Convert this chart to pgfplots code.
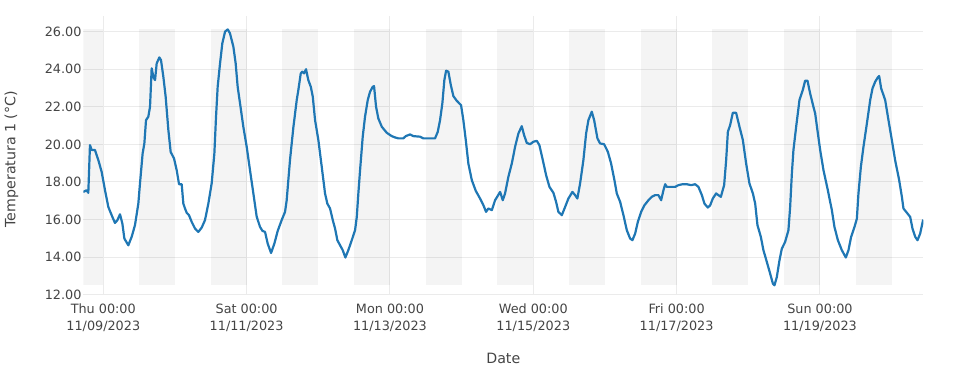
\documentclass[border=0pt]{standalone}
\usepackage{pgfplots}
\pgfplotsset{compat=1.18}
\usepackage{fontspec}
\setmainfont{DejaVu Sans}
\definecolor{txt}{RGB}{68,68,68}
\definecolor{gridc}{RGB}{235,235,235}
\definecolor{linec}{RGB}{31,119,180}

\pgfplotstableread{
day temp
-0.279 17.47
-0.232 17.56
-0.209 17.42
-0.186 19.96
-0.162 19.70
-0.116 19.70
-0.069 19.16
-0.023 18.54
0.024 17.56
0.070 16.67
0.117 16.23
0.163 15.82
0.196 15.96
0.233 16.28
0.266 15.79
0.294 14.99
0.349 14.63
0.396 15.08
0.442 15.70
0.489 16.85
0.512 17.92
0.549 19.52
0.573 20.05
0.596 21.29
0.628 21.47
0.652 22.00
0.675 24.05
0.698 23.60
0.722 23.42
0.745 24.31
0.782 24.63
0.805 24.49
0.838 23.60
0.870 22.54
0.908 20.76
0.940 19.60
0.987 19.25
1.024 18.63
1.057 17.88
1.094 17.88
1.117 16.85
1.140 16.59
1.164 16.36
1.196 16.23
1.233 15.88
1.280 15.52
1.326 15.34
1.373 15.57
1.419 15.97
1.466 16.85
1.512 17.92
1.550 19.52
1.573 21.47
1.596 23.07
1.629 24.31
1.661 25.38
1.699 26.00
1.736 26.12
1.768 25.91
1.815 25.20
1.847 24.31
1.875 23.07
1.908 22.18
1.954 20.94
2.001 19.87
2.047 18.63
2.094 17.39
2.141 16.14
2.187 15.61
2.220 15.40
2.257 15.34
2.294 14.72
2.341 14.22
2.387 14.72
2.434 15.40
2.489 15.97
2.536 16.41
2.559 17.03
2.582 18.10
2.606 19.20
2.652 20.90
2.699 22.36
2.722 22.90
2.755 23.78
2.777 23.87
2.801 23.78
2.829 24.00
2.861 23.42
2.895 23.07
2.923 22.54
2.955 21.29
3.001 20.23
3.048 18.81
3.094 17.39
3.126 16.85
3.164 16.59
3.202 15.97
3.234 15.52
3.266 14.90
3.304 14.63
3.341 14.37
3.378 13.98
3.419 14.37
3.467 14.90
3.513 15.43
3.537 16.14
3.559 17.39
3.583 18.63
3.620 20.41
3.652 21.47
3.690 22.36
3.722 22.80
3.760 23.07
3.778 23.10
3.806 22.00
3.838 21.38
3.886 20.94
3.955 20.62
4.025 20.44
4.071 20.37
4.117 20.32
4.187 20.32
4.220 20.44
4.281 20.53
4.327 20.44
4.420 20.41
4.466 20.32
4.536 20.32
4.629 20.32
4.667 20.67
4.699 21.29
4.731 22.18
4.759 23.42
4.783 23.92
4.815 23.87
4.849 23.16
4.885 22.57
4.932 22.32
4.992 22.09
5.024 21.29
5.058 20.23
5.094 18.98
5.142 18.10
5.197 17.53
5.257 17.12
5.304 16.76
5.341 16.41
5.373 16.59
5.421 16.50
5.467 17.03
5.537 17.47
5.574 17.03
5.606 17.39
5.652 18.27
5.700 18.98
5.746 19.87
5.792 20.58
5.839 20.97
5.872 20.49
5.909 20.08
5.955 20.01
6.001 20.14
6.049 20.19
6.085 19.96
6.133 19.16
6.179 18.36
6.225 17.74
6.281 17.42
6.318 16.94
6.350 16.41
6.398 16.23
6.444 16.67
6.490 17.12
6.546 17.47
6.583 17.30
6.615 17.12
6.653 17.92
6.699 19.16
6.737 20.58
6.769 21.29
6.816 21.74
6.849 21.29
6.895 20.32
6.932 20.05
6.988 20.01
7.040 19.61
7.086 18.98
7.132 18.10
7.165 17.39
7.212 16.94
7.258 16.23
7.305 15.43
7.351 14.99
7.383 14.90
7.421 15.25
7.459 15.88
7.505 16.41
7.551 16.76
7.607 17.03
7.654 17.21
7.700 17.30
7.746 17.30
7.784 17.03
7.816 17.56
7.840 17.88
7.863 17.74
7.909 17.74
7.979 17.74
8.025 17.83
8.081 17.88
8.142 17.88
8.202 17.83
8.258 17.88
8.304 17.74
8.352 17.30
8.388 16.85
8.435 16.64
8.467 16.75
8.505 17.12
8.551 17.39
8.583 17.30
8.617 17.21
8.663 17.83
8.691 19.16
8.715 20.67
8.747 21.03
8.784 21.68
8.830 21.68
8.877 20.94
8.924 20.23
8.970 18.98
9.016 17.92
9.064 17.39
9.096 16.85
9.128 15.70
9.175 15.08
9.211 14.37
9.259 13.74
9.305 13.12
9.343 12.59
9.365 12.50
9.398 12.94
9.435 13.83
9.468 14.45
9.514 14.81
9.560 15.43
9.584 16.67
9.608 18.45
9.630 19.70
9.668 20.94
9.714 22.36
9.761 22.90
9.793 23.39
9.826 23.39
9.863 22.71
9.909 22.00
9.933 21.65
9.971 20.58
10.003 19.70
10.049 18.63
10.110 17.56
10.166 16.50
10.202 15.61
10.250 14.90
10.305 14.37
10.361 13.98
10.398 14.37
10.435 15.08
10.482 15.61
10.515 16.05
10.537 17.39
10.571 18.81
10.607 19.87
10.655 21.12
10.701 22.36
10.733 22.98
10.771 23.34
10.808 23.57
10.826 23.64
10.854 22.98
10.910 22.36
10.956 21.29
11.003 20.23
11.049 19.16
11.105 18.10
11.143 17.21
11.165 16.59
11.213 16.36
11.259 16.14
11.291 15.52
11.329 15.08
11.361 14.90
11.398 15.25
11.440 16.00
}\tempdata

\begin{document}
\begin{tikzpicture}
\useasboundingbox (0pt,0pt) rectangle (953pt,380pt);
\begin{axis}[
  at={(83.3pt,85.3pt)}, anchor=south west,
  scale only axis, width=840pt, height=279pt,
  xmin=-0.279, xmax=11.442, ymin=12, ymax=26.85,
  axis line style={draw=none},
  major tick length=0pt,
  grid=major,
  major grid style={draw=gridc, line width=1pt},
  xtick={0,2,4,6,8,10},
  xticklabels={{Thu 00:00\\11/09/2023},{Sat 00:00\\11/11/2023},{Mon 00:00\\11/13/2023},{Wed 00:00\\11/15/2023},{Fri 00:00\\11/17/2023},{Sun 00:00\\11/19/2023}},
  ytick={12,14,16,18,20,22,24,26},
  /pgf/number format/assume math mode=true,
  yticklabel={\pgfmathprintnumber[fixed,fixed zerofill,precision=2]{\tick}},
  tick label style={font=\fontsize{12.8}{16.7}\selectfont, text=txt},
  xticklabel style={align=center, anchor=north, yshift=-6pt},
  yticklabel style={anchor=east, xshift=1.7pt},
  xlabel={Date},
  ylabel={Temperatura 1 (°C)},
  xlabel style={at={(axis description cs:0.5,-0.227)}, anchor=center, font=\fontsize{14.2}{17}\selectfont, text=txt},
  ylabel style={at={(axis description cs:-0.0855,0.486)}, anchor=center, font=\fontsize{14.2}{17}\selectfont, text=txt},
  band/.style={fill=black, fill opacity=0.045, draw=none},
]
\addplot[band] coordinates {(-0.279,12.5) (0,12.5) (0,26.12) (-0.279,26.12)};
\addplot[band] coordinates {(0.5,12.5) (1,12.5) (1,26.12) (0.5,26.12)};
\addplot[band] coordinates {(1.5,12.5) (2,12.5) (2,26.12) (1.5,26.12)};
\addplot[band] coordinates {(2.5,12.5) (3,12.5) (3,26.12) (2.5,26.12)};
\addplot[band] coordinates {(3.5,12.5) (4,12.5) (4,26.12) (3.5,26.12)};
\addplot[band] coordinates {(4.5,12.5) (5,12.5) (5,26.12) (4.5,26.12)};
\addplot[band] coordinates {(5.5,12.5) (6,12.5) (6,26.12) (5.5,26.12)};
\addplot[band] coordinates {(6.5,12.5) (7,12.5) (7,26.12) (6.5,26.12)};
\addplot[band] coordinates {(7.5,12.5) (8,12.5) (8,26.12) (7.5,26.12)};
\addplot[band] coordinates {(8.5,12.5) (9,12.5) (9,26.12) (8.5,26.12)};
\addplot[band] coordinates {(9.5,12.5) (10,12.5) (10,26.12) (9.5,26.12)};
\addplot[band] coordinates {(10.5,12.5) (11,12.5) (11,26.12) (10.5,26.12)};
\addplot[draw=linec, line width=2.2pt, mark=none, line join=round] table[x=day, y=temp] {\tempdata};
\end{axis}
\end{tikzpicture}
\end{document}
